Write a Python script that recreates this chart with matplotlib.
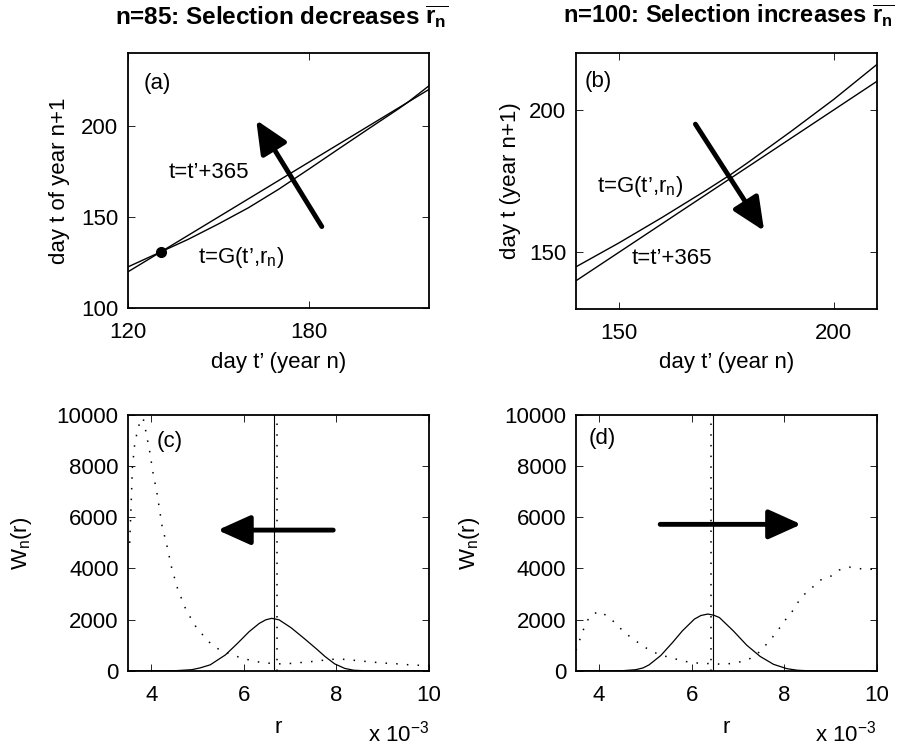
import matplotlib
matplotlib.use('Agg')
import matplotlib.pyplot as plt

plt.rcParams['font.family'] = 'Liberation Sans'
plt.rcParams['font.size'] = 16
plt.rcParams['mathtext.fontset'] = 'custom'
plt.rcParams['mathtext.rm'] = 'Liberation Sans'
plt.rcParams['mathtext.it'] = 'Liberation Sans:italic'
plt.rcParams['mathtext.bf'] = 'Liberation Sans:bold'

# panel (a), n=85: day t' (year n) -> day t (year n+1)
tp_a = [120, 131, 140, 150, 160, 170, 180, 190, 200, 210, 213, 220]
G_a = [122.7, 131, 137.8, 146.2, 155.1, 165.2, 176.2, 187.4, 198.5, 209.5, 213, 222]
line_a_x = [120, 220]
line_a_y = [120, 220]
fixed_a = (131, 131)

# panel (b), n=100
tp_b = [140, 150, 160, 170, 176, 180, 190, 200, 210]
G_b = [144.9, 153.3, 162.2, 171.5, 177.3, 181.5, 192.4, 203.7, 215.9]
line_b_x = [140, 210]
line_b_y = [140, 210]

# panel (c): r in units of 1e-3
r_c = [3.5, 4.5, 4.87, 5.05, 5.27, 5.60, 5.86, 6.11, 6.33, 6.47, 6.60, 6.76,
       7.02, 7.31, 7.57, 7.75, 7.96, 8.18, 8.37, 8.6, 10]
W_c = [0, 0, 40, 110, 230, 620, 1070, 1525, 1850, 1990, 2050, 1990,
       1680, 1250, 850, 560, 270, 90, 20, 0, 0]
r_c_dot = [3.53, 3.57, 3.59, 3.64, 3.70, 3.76, 3.82, 3.87, 3.96, 4.03, 4.12,
           4.23, 4.34, 4.44, 4.57, 4.75, 4.98, 5.31, 5.51, 5.97, 6.40, 6.86,
           7.10, 7.35, 7.59, 7.83, 8.07, 8.31, 8.53, 8.77, 9.01, 9.25, 9.49,
           9.73, 10.0]
W_c_dot = [5000, 7000, 8000, 8900, 9400, 9800, 9880, 9440, 8600, 7780, 6940,
           5660, 4850, 4000, 3180, 2370, 1660, 1000, 780, 480, 310, 260,
           300, 340, 380, 440, 460, 420, 380, 340, 300, 280, 240,
           220, 180]
rbar_c = 6.64
rbar_c_sel = 6.71

# panel (d)
r_d = [3.5, 4.5, 4.79, 4.95, 5.08, 5.33, 5.59, 5.80, 6.06, 6.20, 6.35, 6.48,
       6.60, 6.90, 7.19, 7.48, 7.77, 8.06, 8.28, 8.5, 10]
W_d = [0, 0, 40, 110, 230, 590, 1110, 1560, 2020, 2160, 2217, 2170,
       2080, 1560, 1000, 560, 250, 80, 20, 0, 0]
r_d_dot = [3.5, 3.53, 3.61, 3.69, 3.80, 4.00, 4.20, 4.37, 4.53, 4.71, 4.92,
           5.11, 5.33, 5.55, 5.79, 6.02, 6.24, 6.57, 6.75, 6.97, 7.21, 7.41,
           7.57, 7.73, 7.88, 8.01, 8.16, 8.28, 8.42, 8.61, 8.79, 9.01, 9.19,
           9.41, 9.59, 9.81, 10.0]
W_d_dot = [800, 940, 1360, 1750, 2140, 2330, 2110, 1830, 1525, 1270, 1005,
           780, 615, 510, 390, 313, 290, 262, 262, 313, 420, 640,
           940, 1270, 1620, 1955, 2280, 2635, 2960, 3260, 3550, 3700, 3940,
           4050, 4000, 3960, 3980]
rbar_d = 6.47
rbar_d_sel = 6.42

DOT = (0, (1, 6))


def style(ax):
    ax.tick_params(direction='in', top=True, right=True, length=5, width=0.6,
                   labelsize=16)
    ax.tick_params(axis='x', pad=10)
    ax.tick_params(axis='y', pad=7)
    for s in ax.spines.values():
        s.set_linewidth(1.3)


def arrow(ax, tail, tip):
    ax.annotate('', xy=tip, xytext=tail,
                arrowprops=dict(arrowstyle='-|>,head_length=1.0,head_width=0.45',
                                mutation_scale=20, lw=3.5, color='k',
                                shrinkA=0, shrinkB=0))


fig = plt.figure(figsize=(8.98, 7.47), dpi=100)

# (a)
ax = fig.add_axes([0.1425, 0.5873, 0.3352, 0.3418])
ax.plot(line_a_x, line_a_y, 'k', lw=1)
ax.plot(tp_a, G_a, 'k', lw=1)
ax.plot(*fixed_a, 'ko', ms=7)
ax.set_xlim(120, 220)
ax.set_ylim(100, 240)
ax.set_xticks([120, 180])
ax.set_yticks([100, 150, 200])
arrow(ax, (184.4, 144.8), (162.6, 203.2))
ax.text(125.3, 223, '(a)', va='center')
ax.text(133.4, 174.3, 't=t\u2019+365', va='center')
ax.text(143.3, 127.6, 't=G(t\u2019,r$_\\mathrm{n}$)', va='center')
ax.set_xlabel('day t\u2019 (year n)', labelpad=6)
ax.set_ylabel('day t of year n+1', labelpad=8)
style(ax)

# (b)
ax = fig.add_axes([0.6414, 0.5860, 0.3349, 0.3431])
ax.plot(line_b_x, line_b_y, 'k', lw=1)
ax.plot(tp_b, G_b, 'k', lw=1)
ax.set_xlim(140, 210)
ax.set_ylim(130, 220)
ax.set_xticks([150, 200])
ax.set_yticks([150, 200])
arrow(ax, (167.8, 195), (183.8, 157.5))
ax.text(142.1, 209.9, '(b)', va='center')
ax.text(144.8, 173, 't=G(t\u2019,r$_\\mathrm{n}$)', va='center')
ax.text(153, 147.9, 't=t\u2019+365', va='center')
ax.set_xlabel('day t\u2019 (year n)', labelpad=6)
ax.set_ylabel('day t (year n+1)', labelpad=6)
style(ax)

# (c)
ax = fig.add_axes([0.1429, 0.1021, 0.3348, 0.3423])
ax.plot(r_c, W_c, 'k', lw=0.9)
ax.plot(r_c_dot, W_c_dot, 'k', lw=1.1, ls=DOT)
ax.axvline(rbar_c, color='k', lw=0.8)
ax.axvline(rbar_c_sel, color='k', lw=1.1, ls=DOT)
ax.set_xlim(3.5, 10)
ax.set_ylim(0, 10000)
ax.set_xticks([4, 6, 8, 10])
ax.set_yticks(range(0, 10001, 2000))
arrow(ax, (7.93, 5500), (5.43, 5500))
ax.text(4.11, 8957, '(c)', va='center')
ax.set_xlabel('r', labelpad=8)
ax.set_ylabel('W$_\\mathrm{n}$(r)', labelpad=16)
ax.text(1.0, -0.278, 'x 10$^{-3}$', transform=ax.transAxes, ha='right',
        va='baseline')
style(ax)

# (d)
ax = fig.add_axes([0.6414, 0.1021, 0.3349, 0.3423])
ax.plot(r_d, W_d, 'k', lw=0.9)
ax.plot(r_d_dot, W_d_dot, 'k', lw=1.1, ls=DOT)
ax.axvline(rbar_d, color='k', lw=0.8)
ax.axvline(rbar_d_sel, color='k', lw=1.1, ls=DOT)
ax.set_xlim(3.5, 10)
ax.set_ylim(0, 10000)
ax.set_xticks([4, 6, 8, 10])
ax.set_yticks(range(0, 10001, 2000))
arrow(ax, (5.32, 5725), (8.37, 5725))
ax.text(3.77, 9090, '(d)', va='center')
ax.set_xlabel('r', labelpad=8)
ax.set_ylabel('W$_\\mathrm{n}$(r)', labelpad=16)
ax.text(1.0, -0.278, 'x 10$^{-3}$', transform=ax.transAxes, ha='right',
        va='baseline')
style(ax)

fig.text(0.313, 0.968, 'n=85: Selection decreases $\\overline{\\mathbf{r}_\\mathbf{n}}$',
         ha='center', va='baseline', fontweight='bold', fontsize=17.5)
fig.text(0.996, 0.968, 'n=100: Selection increases $\\overline{\\mathbf{r}_\\mathbf{n}}$',
         ha='right', va='baseline', fontweight='bold', fontsize=17)

fig.savefig('out.png', dpi=100)
